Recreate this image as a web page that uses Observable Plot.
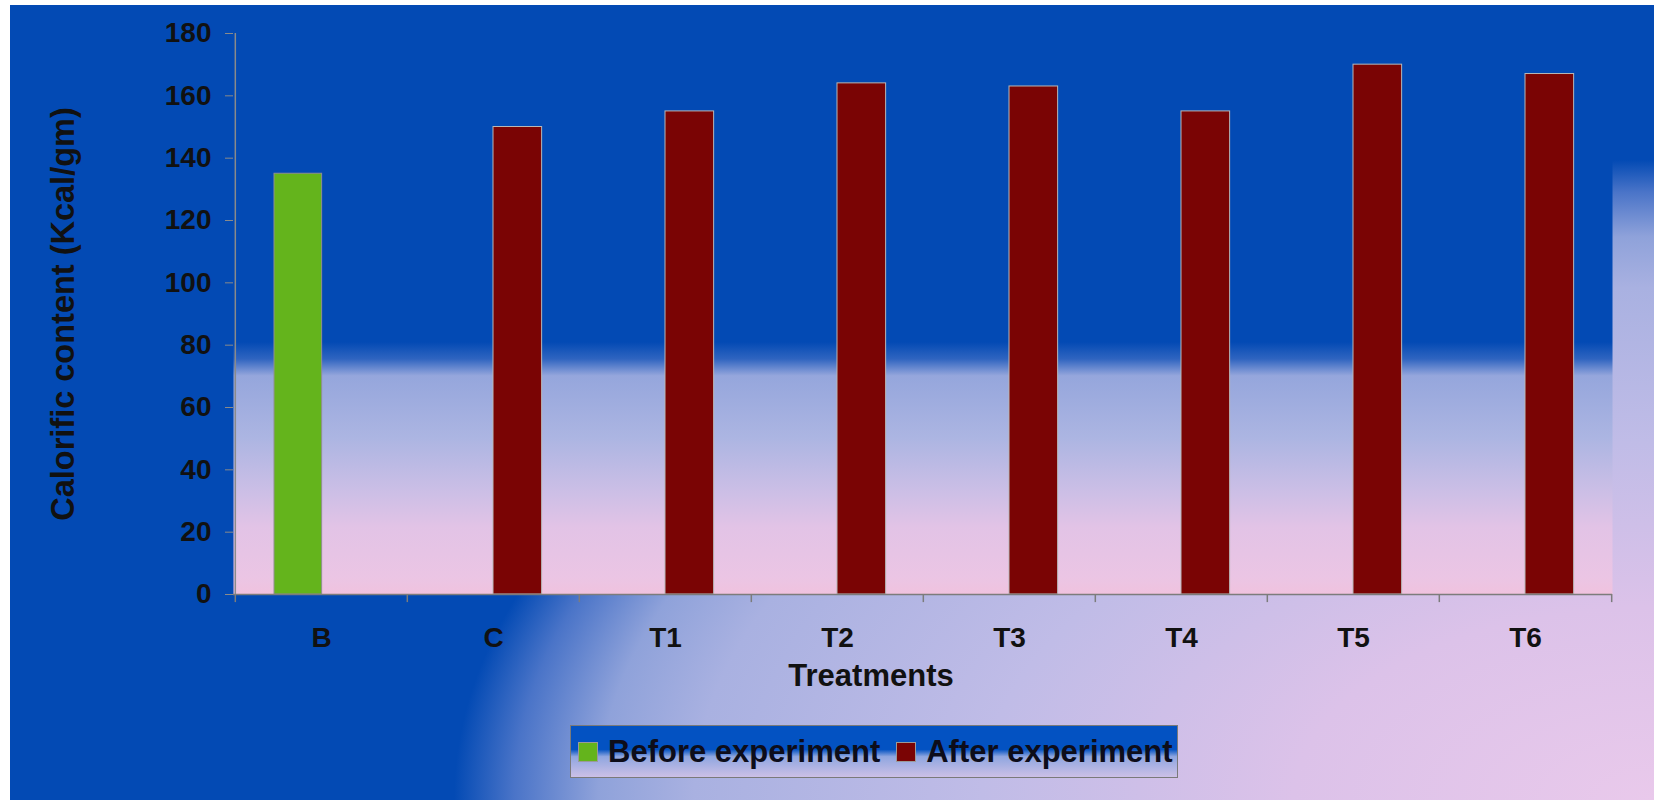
<!DOCTYPE html>
<html>
<head>
<meta charset="utf-8">
<script src="https://cdn.jsdelivr.net/npm/d3@7"></script>
<script src="https://cdn.jsdelivr.net/npm/@observablehq/plot@0.6"></script>
<style>
html, body { margin: 0; padding: 0; overflow: hidden; background: #fff; }
#page { position: relative; width: 1654px; height: 800px; background: #fff; font-family: "Liberation Sans", Arial, sans-serif; }
#bg { position: absolute; left: 10px; top: 5px; right: 0; bottom: 0;
  background: radial-gradient(1200px 640px at 100% 100%, #E9C9EB 0%, #DCC2E9 30%, #C0BCE7 56%, #A9B1E1 80%, #8FA2DA 88%, #4A74C8 95%, #034AB4 100%); }
#chart { position: absolute; left: 0; top: 0; }
#legend { position: absolute; left: 570px; top: 725px; width: 608px; height: 53px; box-sizing: border-box;
  border: 1.5px solid #7a7a7a;
  background: linear-gradient(to bottom, #0352C2 0%, #0352C2 46%, #8FA6E0 60%, #CCC0E6 100%);
  display: flex; align-items: center; padding-left: 7px; font-weight: bold; font-size: 31px; color: #0d0d1a; white-space: nowrap; }
.sw { width: 20px; height: 20px; border: 1px solid #9a9a9a; box-sizing: border-box; margin-right: 10px; flex: none; }
</style>
</head>
<body>
<div id="page">
  <div id="bg"></div>
  <div id="chart"></div>
  <div id="legend"></div>
</div>
<script>
// ---- data ----
const categories = ["B", "C", "T1", "T2", "T3", "T4", "T5", "T6"];
const beforeExperiment = [135, null, null, null, null, null, null, null];
const afterExperiment = [null, 150, 155, 164, 163, 155, 170, 167];
const yTicks = [0, 20, 40, 60, 80, 100, 120, 140, 160, 180];
const seriesNames = ["Before experiment", "After experiment"];
const seriesColors = ["#64B41C", "#7A0404"];
const xLabel = "Treatments";
const yLabel = "Calorific content (Kcal/gm)";

// ---- layout ----
const W = 1654, H = 715, mL = 233, mR = 42, mT = 33, mB = 121;
const bw = (W - mL - mR) / categories.length;

const before = categories.map((c, i) => ({cat: c, value: beforeExperiment[i]})).filter(d => d.value != null);
const after = categories.map((c, i) => ({cat: c, value: afterExperiment[i]})).filter(d => d.value != null);

const chart = Plot.plot({
  width: W, height: H,
  marginLeft: mL, marginRight: mR, marginTop: mT, marginBottom: mB,
  style: {background: "transparent", fontFamily: "'Liberation Sans', Arial, sans-serif", color: "#111", overflow: "visible"},
  x: {type: "band", domain: categories, padding: 0},
  y: {domain: [0, 180]},
  marks: [
    Plot.frame({fill: "url(#plotbg)", stroke: "none"}),
    Plot.barY(before, {x: "cat", y: "value", fill: seriesColors[0], insetLeft: 39, insetRight: bw - 87, stroke: "#8f8f8f", strokeWidth: 1}),
    Plot.barY(after, {x: "cat", y: "value", fill: seriesColors[1], insetLeft: 86, insetRight: bw - 135, stroke: "#b8b8b8", strokeWidth: 1}),
    Plot.ruleY([0], {stroke: "#7c7c7c", strokeWidth: 1.5}),
    Plot.ruleX([categories[0]], {x: d => d, y1: 0, y2: 180, dx: -bw / 2, stroke: "#8a8a8a", strokeWidth: 1.5}),
    Plot.ruleX(categories, {x: d => d, y1: 0, y2: -2.6, dx: -bw / 2, stroke: "#7c7c7c", strokeWidth: 1.5}),
    Plot.ruleX([categories[categories.length - 1]], {x: d => d, y1: 0, y2: -2.6, dx: bw / 2, stroke: "#7c7c7c", strokeWidth: 1.5}),
    Plot.axisY({ticks: yTicks, tickSize: 8, tickPadding: 14, fontSize: 28, fontWeight: "bold", color: "#111", stroke: "#8a8a8a", label: null}),
    Plot.axisX({tickSize: 0, tickPadding: 33, fontSize: 28, fontWeight: "bold", color: "#111", label: null}),
    Plot.text([xLabel], {text: d => d, frameAnchor: "bottom", dx: -52, dy: 91, fontSize: 31, fontWeight: "bold", fill: "#111"}),
    Plot.text([yLabel], {text: d => d, frameAnchor: "left", textAnchor: "middle", rotate: -90, dx: -169.5, fontSize: 32.5, fontWeight: "bold", fill: "#111"})
  ]
});

// gradient for the plot area
const svg = d3.select(chart);
const grad = svg.insert("defs", ":first-child").append("linearGradient")
  .attr("id", "plotbg").attr("x1", 0).attr("y1", 0).attr("x2", 0).attr("y2", 1);
[[0, "#034AB4"], [0.55, "#034AB4"], [0.58, "#2F64C0"], [0.61, "#95A6DC"], [0.72, "#ACB5E2"],
 [0.82, "#CDBFE6"], [0.88, "#E2C3E6"], [0.97, "#EBC5E4"], [1, "#F0C2DE"]].forEach(([o, c]) => {
  grad.append("stop").attr("offset", o).attr("stop-color", c);
});

document.getElementById("chart").appendChild(chart);

// legend
const legend = d3.select("#legend");
seriesNames.forEach((name, i) => {
  legend.append("div").attr("class", "sw").style("background", seriesColors[i]).style("margin-left", i ? "16px" : "0px");
  legend.append("span").text(name);
});
</script>
</body>
</html>
